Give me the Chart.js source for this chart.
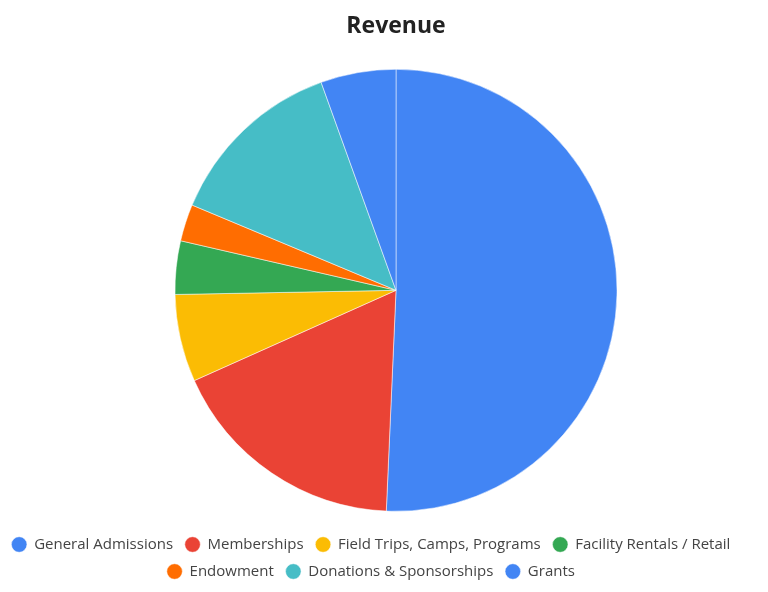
<!DOCTYPE html>
<html>
<head>
<meta charset="utf-8">
<script src="https://cdn.jsdelivr.net/npm/chart.js@4"></script>
<style>
  html, body { margin: 0; padding: 0; background: #fff; }
  #wrap { width: 768px; height: 592px; }
</style>
</head>
<body>
<div id="wrap"><canvas id="chart"></canvas></div>
<script>
const categories = ['General Admissions', 'Memberships', 'Field Trips, Camps, Programs',
  'Facility Rentals / Retail', 'Endowment', 'Donations & Sponsorships', 'Grants'];
const revenue = [50.7, 17.6, 6.4, 3.9, 2.7, 13.2, 5.5];
const colors = ['#4285F4', '#EA4335', '#FBBC04', '#34A853', '#FF6D01', '#46BDC6', '#4285F4'];

// legend sits a little left of the pie/title in the original
const shiftLegend = {
  id: 'shiftLegend',
  afterLayout(chart) {
    const lg = chart.legend;
    lg.left -= 25;
    lg.right -= 25;
  }
};

new Chart(document.getElementById('chart'), {
  type: 'pie',
  data: {
    labels: categories,
    datasets: [{
      data: revenue,
      backgroundColor: colors,
      borderColor: 'rgba(255,255,255,0.5)',
      borderWidth: 1,
      radius: 221
    }]
  },
  options: {
    responsive: true,
    maintainAspectRatio: false,
    animation: false,
    layout: { padding: { left: 24, top: 0, bottom: 3 } },
    plugins: {
      title: {
        display: true,
        text: 'Revenue',
        color: '#222',
        font: { family: 'Open Sans', size: 23, weight: 'bold' },
        padding: { top: 13, bottom: 15 }
      },
      legend: {
        position: 'bottom',
        labels: {
          usePointStyle: true,
          pointStyle: 'circle',
          boxWidth: 15,
          boxHeight: 11,
          padding: 12,
          color: '#444',
          font: { family: 'Open Sans', size: 15 }
        }
      },
      tooltip: { enabled: false }
    }
  },
  plugins: [shiftLegend]
});
</script>
</body>
</html>
